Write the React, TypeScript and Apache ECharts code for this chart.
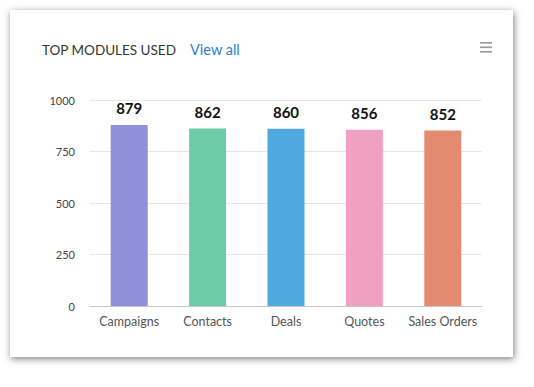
import React, { useEffect, useRef } from "react";
import * as echarts from "echarts";

const categories = ["Campaigns", "Contacts", "Deals", "Quotes", "Sales Orders"];
const values = [879, 862, 860, 856, 852];
const barColors = ["#8e91d9", "#6dcbaa", "#4fa9e0", "#f0a0c1", "#e28b70"];
const yTicks = [0, 250, 500, 750, 1000];

export default function App() {
  const ref = useRef<HTMLDivElement>(null);
  useEffect(() => {
    if (!ref.current) return;
    const chart = echarts.init(ref.current, undefined, { renderer: "svg" });
    chart.setOption({
      animation: false,
      textStyle: { fontFamily: "Lato, 'Open Sans', sans-serif" },
      title: {
        text: "TOP MODULES USED",
        left: 42,
        top: 43,
        padding: 0,
        textStyle: { fontSize: 13.5, fontWeight: "normal", color: "#333", fontFamily: "Lato" },
      },
      graphic: [
        {
          type: "text",
          left: 190,
          top: 42,
          style: { text: "View all", fill: "#2b7fd4", font: "14.5px Lato" },
        },
        { type: "rect", shape: { x: 480, y: 42, width: 12, height: 1.6 }, style: { fill: "#999" } },
        { type: "rect", shape: { x: 480, y: 46.5, width: 12, height: 1.6 }, style: { fill: "#999" } },
        { type: "rect", shape: { x: 480, y: 51, width: 12, height: 1.6 }, style: { fill: "#999" } },
      ],
      grid: { left: 90, right: 52, top: 100, bottom: 81 },
      xAxis: {
        type: "category",
        data: categories,
        axisTick: { show: false },
        axisLine: { lineStyle: { color: "#c8c8c8" } },
        axisLabel: { color: "#555", fontSize: 12.5, margin: 9, interval: 0, fontFamily: "Lato" },
      },
      yAxis: {
        type: "value",
        min: yTicks[0],
        max: yTicks[yTicks.length - 1],
        interval: 250,
        axisLine: { show: false },
        axisTick: { show: false },
        splitLine: { lineStyle: { color: "#e6e6e6" } },
        axisLabel: {
          color: "#444",
          fontSize: 11,
          margin: 15,
          fontFamily: "Lato",
          formatter: (v: number) => String(v),
        },
      },
      series: [
        {
          type: "bar",
          data: values.map((v, i) => ({ value: v, itemStyle: { color: barColors[i] } })),
          barWidth: 37,
          label: {
            show: true,
            position: "top",
            distance: 9,
            color: "#111",
            fontSize: 15,
            fontWeight: "bold",
            fontFamily: "Lato",
          },
        },
      ],
    });
    return () => chart.dispose();
  }, []);
  return (
    <div style={{ position: "fixed", left: 0, top: 0, width: 534, height: 387, background: "#fff" }}>
      <div
        style={{
          position: "absolute",
          left: 10,
          top: 10,
          width: 503,
          height: 347,
          background: "#fff",
          boxShadow: "1px 2px 7px rgba(0,0,0,0.5)",
        }}
      />
      <div ref={ref} style={{ position: "absolute", left: 0, top: 0, width: 534, height: 387 }} />
    </div>
  );
}
